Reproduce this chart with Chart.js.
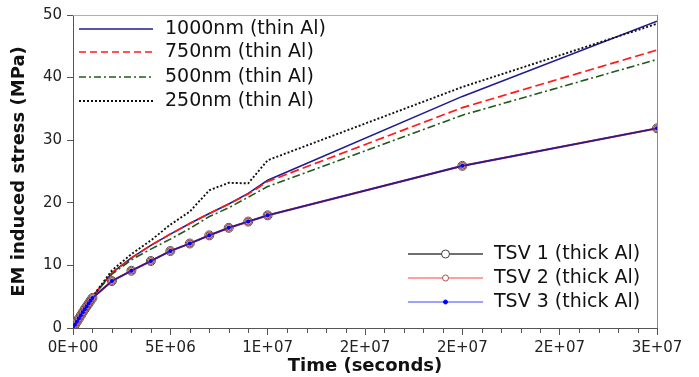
<!DOCTYPE html>
<html><head><meta charset="utf-8">
<script src="https://cdn.jsdelivr.net/npm/chart.js@4/dist/chart.umd.min.js"></script>
<style>html,body{margin:0;padding:0;background:#fff}#wrap{width:699px;height:377px}</style>
</head><body><div id="wrap"><canvas id="c" width="699" height="377"></canvas></div>
<script>
// ---- data ----
const thinTimes = [0, 0.5e6, 1e6, 2e6, 3e6, 4e6, 5e6, 6e6, 7e6, 8e6, 9e6, 1e7, 2e7, 3e7];
const nm1000 = [0, 2.8, 5.0, 8.8, 11.2, 13.2, 15.0, 16.7, 18.3, 19.8, 21.5, 23.6, 37.0, 49.0];
const nm750  = [0, 2.8, 5.0, 8.8, 11.2, 13.2, 15.0, 16.7, 18.3, 19.8, 21.4, 23.4, 35.2, 44.4];
const nm500  = [0, 2.8, 5.0, 8.6, 10.9, 12.6, 14.2, 15.9, 17.8, 19.2, 20.9, 22.6, 34.0, 42.9];
const nm250  = [0, 2.8, 5.0, 9.2, 11.8, 14.0, 16.5, 18.6, 22.0, 23.2, 23.1, 26.8, 38.5, 48.6];

const tsvTimes = [0, 1e5, 2e5, 3e5, 4e5, 5e5, 6e5, 7e5, 8e5, 9e5, 1e6,
                  2e6, 3e6, 4e6, 5e6, 6e6, 7e6, 8e6, 9e6, 1e7, 2e7, 3e7];
const tsv1 = [0, 0.5, 1.0, 1.5, 2.0, 2.5, 3.0, 3.45, 3.9, 4.35, 4.8,
              7.5, 9.15, 10.7, 12.3, 13.5, 14.8, 16.0, 17.0, 18.0, 25.9, 31.9];
const tsv2 = tsv1.slice();
const tsv3 = tsv1.slice();

const xTickLabels = ["0E+00", "5E+06", "1E+07", "2E+07", "2E+07", "2E+07", "3E+07"];
const yTickValues = [0, 10, 20, 30, 40, 50];

const labels = ["1000nm (thin Al)", "750nm (thin Al)", "500nm (thin Al)", "250nm (thin Al)",
                "TSV 1 (thick Al)", "TSV 2 (thick Al)", "TSV 3 (thick Al)"];

const pts = (ts, vs) => ts.map((t, i) => ({x: t, y: vs[i]}));
const FONT = "'DejaVu Sans', sans-serif";

const datasets = [
  {label: labels[0], data: pts(thinTimes, nm1000), borderColor: '#1c1c8e', borderWidth: 1.6, pointRadius: 0},
  {label: labels[1], data: pts(thinTimes, nm750), borderColor: '#ff1a1a', borderWidth: 1.7, borderDash: [9, 4], pointRadius: 0},
  {label: labels[2], data: pts(thinTimes, nm500), borderColor: '#1e5c1e', borderWidth: 1.6, borderDash: [8, 3, 2, 3], pointRadius: 0},
  {label: labels[3], data: pts(thinTimes, nm250), borderColor: '#111111', borderWidth: 1.9, borderDash: [2, 2], pointRadius: 0},
  {label: labels[4], data: pts(tsvTimes, tsv1), borderColor: '#303030', borderWidth: 1.8,
   pointRadius: 4.5, pointBackgroundColor: '#ffffff', pointBorderColor: '#505050', pointBorderWidth: 1},
  {label: labels[5], data: pts(tsvTimes, tsv2), borderColor: 'rgba(255,40,40,0.45)', borderWidth: 2.3,
   pointRadius: 3.5, pointBackgroundColor: 'rgba(190,140,140,0.85)', pointBorderColor: 'rgba(150,40,40,0.8)', pointBorderWidth: 1},
  {label: labels[6], data: pts(tsvTimes, tsv3), borderColor: 'rgba(10,10,190,0.7)', borderWidth: 1.6,
   pointRadius: 2, pointBackgroundColor: '#0000ff', pointBorderColor: '#0000ff', pointBorderWidth: 0}
];
datasets.forEach((d, i) => { d.fill = false; d.tension = 0; d.pointHoverRadius = d.pointRadius; d.order = 10 - i; });

// legend styling (as seen in the reference legend boxes)
const legendStyle = [
  {color: '#1c1c8e', dash: [], width: 1.6},
  {color: '#ff1a1a', dash: [7, 4], width: 1.6},
  {color: '#1e5c1e', dash: [7, 3, 2, 3], width: 1.6},
  {color: '#111111', dash: [2, 2], width: 1.8},
  {color: '#404040', dash: [], width: 1.6, r: 4, fill: '#ffffff', stroke: '#404040'},
  {color: '#ff8080', dash: [], width: 1.6, r: 3, fill: '#ffffff', stroke: '#b05050'},
  {color: '#8080ff', dash: [], width: 1.6, r: 2, fill: '#0000ff', stroke: '#0000ff'}
];

const decorPlugin = {
  id: 'decor',
  beforeDatasetsDraw(chart) {
    const {ctx, chartArea: a} = chart;
    ctx.save();
    ctx.lineWidth = 1;
    ctx.strokeStyle = '#b0b0b0';
    ctx.beginPath(); ctx.moveTo(a.left, a.top + 0.5); ctx.lineTo(a.right, a.top + 0.5); ctx.stroke();
    ctx.strokeStyle = '#8a8a8a';
    ctx.beginPath(); ctx.moveTo(a.right + 0.5, a.top); ctx.lineTo(a.right + 0.5, a.bottom); ctx.stroke();
    // minor ticks on x axis
    const xs = chart.scales.x;
    ctx.strokeStyle = '#555555';
    for (let i = 1; i < 30; i++) {
      if (i % 5 === 0) continue;
      const px = Math.round(xs.getPixelForValue(i * 1e6)) + 0.5;
      ctx.beginPath(); ctx.moveTo(px, a.bottom); ctx.lineTo(px, a.bottom + 5); ctx.stroke();
    }
    ctx.restore();
  },
  afterDraw(chart) {
    const {ctx} = chart;
    ctx.save();
    ctx.font = "19px " + FONT;
    ctx.textBaseline = 'middle';
    ctx.fillStyle = '#111111';
    const drawEntry = (i, x0, x1, tx, y) => {
      const s = legendStyle[i];
      ctx.setLineDash(s.dash);
      ctx.lineWidth = s.width;
      ctx.strokeStyle = s.color;
      ctx.beginPath(); ctx.moveTo(x0, y); ctx.lineTo(x1, y); ctx.stroke();
      ctx.setLineDash([]);
      if (s.r) {
        ctx.beginPath(); ctx.arc((x0 + x1) / 2, y, s.r, 0, Math.PI * 2);
        ctx.fillStyle = s.fill; ctx.fill();
        ctx.lineWidth = 1; ctx.strokeStyle = s.stroke; ctx.stroke();
      }
      ctx.fillStyle = '#111111';
      ctx.fillText(chart.data.datasets[i].label, tx, y);
    };
    const rows1 = [29, 52, 77, 101];
    for (let i = 0; i < 4; i++) drawEntry(i, 79, 153, 165, rows1[i]);
    const rows2 = [254, 278, 302];
    for (let i = 0; i < 3; i++) drawEntry(4 + i, 408, 483, 494, rows2[i]);
    ctx.restore();
  }
};

new Chart(document.getElementById('c'), {
  type: 'line',
  data: {datasets},
  plugins: [decorPlugin],
  options: {
    responsive: false,
    animation: false,
    devicePixelRatio: 1,
    layout: {padding: {top: 15, right: 42, left: 0, bottom: 0}},
    plugins: {legend: {display: false}, tooltip: {enabled: false}},
    scales: {
      x: {
        type: 'linear', min: 0, max: 3e7,
        afterFit: s => { s.height = 49; },
        afterBuildTicks: s => { s.ticks = xTickLabels.map((_, i) => ({value: i * 5e6})); },
        ticks: {
          autoSkip: false, maxRotation: 0, padding: 4, color: '#222',
          font: {family: FONT, size: 15},
          callback: (v, i) => xTickLabels[i]
        },
        grid: {drawOnChartArea: false, drawTicks: true, tickLength: 7, tickColor: '#555555'},
        border: {display: true, color: '#555555', width: 1},
        title: {display: true, text: 'Time (seconds)', color: '#111',
                font: {family: FONT, size: 18, weight: 'bold'}, padding: {top: 0, bottom: 0}}
      },
      y: {
        type: 'linear', min: 0, max: 50,
        afterFit: s => { s.width = 73; },
        afterBuildTicks: s => { s.ticks = yTickValues.map(v => ({value: v})); },
        ticks: {padding: 5, color: '#222', font: {family: FONT, size: 15}},
        grid: {drawOnChartArea: false, drawTicks: true, tickLength: 6, tickColor: '#555555'},
        border: {display: true, color: '#555555', width: 1},
        title: {display: true, text: 'EM induced stress (MPa)', color: '#111',
                font: {family: FONT, size: 18, weight: 'bold'}, padding: {top: 9, bottom: 0}}
      }
    }
  }
});
</script>
</body></html>
